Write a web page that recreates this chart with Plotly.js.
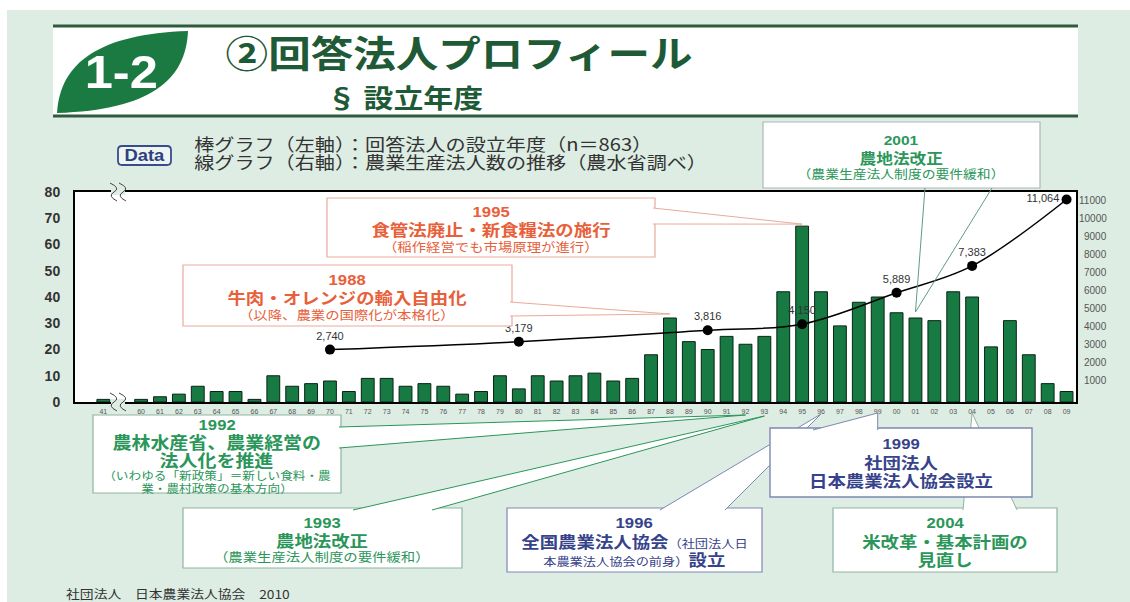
<!DOCTYPE html>
<html><head><meta charset="utf-8">
<script src="https://cdn.plot.ly/plotly-3.0.1.min.js"></script>
<style>html,body{margin:0;padding:0;background:#ddede3;}#chart{width:1130px;height:602px;}</style>
</head><body><div id="chart"></div>
<script>
// ---- data ----
const yearLabels = ['41','60','61','62','63','64','65','66','67','68','69','70','71','72','73','74','75','76','77','78','79','80','81','82','83','84','85','86','87','88','89','90','91','92','93','94','95','96','97','98','99','00','01','02','03','04','05','06','07','08','09'];
const established = [1, 1,2,3,6,4,4,1,10,6,7, 8,4,9,9,6,7,6,3,4,10, 5,10,8,10,11,8,9,18,32,23, 20,25,22,25,42,67,42,29,38,40, 34,32,31,42,40,21,31,18,7,4];
const farmYears = ['70','80','90','95','00','04','09'];
const farmCorps = [2740,3179,3816,4150,5889,7383,11064];
const leftTicks = [0,10,20,30,40,50,60,70,80];
const rightTicks = [1000,2000,3000,4000,5000,6000,7000,8000,9000,10000,11000];

// ---- geometry ----
const W=1130,H=602,PL=75,PR=1076,PT=192,PB=402;
const XR=[-3.5,49.5], YL=[0,80], YR=[-166,11481];
const xPos = yearLabels.map((l,i)=> i===0 ? -2 : i-1);
const farmX = farmYears.map(y=>xPos[yearLabels.indexOf(y)]);
const fx = p => (p-PL)/(PR-PL);
const fy = p => (PB-p)/(PB-PT);
const dpx = i => PL+(i-XR[0])/(XR[1]-XR[0])*(PR-PL);
const dpy = v => PB-(v-YL[0])/(YL[1]-YL[0])*(PB-PT);
const posOf = lab => xPos[yearLabels.indexOf(lab)];
const valOf = lab => established[yearLabels.indexOf(lab)];

const JP = '"Noto Sans CJK JP", sans-serif';
const AR = '"Liberation Sans", Arial, sans-serif';
const BG = '#ddede3';
const RED='#e8603a', REDB='#e9ab9b', GRN='#2a9659', GRNB='#8fb3a2', NAV='#36438a', NAVB='#7d88b3';
const SX = 1.15; // horizontal stretch of the reference lettering

const shapes=[], ann=[], stretch={};
function rect(x0,y0,x1,y1,fill,line,lw){shapes.push({type:'rect',xref:'paper',yref:'paper',x0:fx(x0),x1:fx(x1),y0:fy(y1),y1:fy(y0),fillcolor:fill,line:{color:line||'rgba(0,0,0,0)',width:lw===undefined?1:lw},layer:'above'});}
function path(pts,fill,line,lw,close){let d=pts.map((p,k)=>(k?'L':'M')+fx(p[0])+','+fy(p[1])).join(' ')+(close?' Z':'');shapes.push({type:'path',xref:'paper',yref:'paper',path:d,fillcolor:fill||'rgba(0,0,0,0)',line:{color:line||'rgba(0,0,0,0)',width:lw===undefined?1:lw},layer:'above'});}
function rawPath(d,fill,line,lw){shapes.push({type:'path',xref:'paper',yref:'paper',path:d,fillcolor:fill||'rgba(0,0,0,0)',line:{color:line||'rgba(0,0,0,0)',width:lw===undefined?1:lw},layer:'above'});}
function T(x,y,text,size,color,weight,family,anchor,sx){
  ann.push({xref:'paper',yref:'paper',x:fx(x),y:fy(y),text:text,showarrow:false,xanchor:anchor||'center',yanchor:'middle',borderpad:0,font:{family:family||JP,size:size,color:color,weight:weight||400}});
  stretch[ann.length-1]={s:sx===undefined?SX:sx,a:anchor||'center'};
}
function P(x,y){return fx(x)+','+fy(y);}

// page decoration
rect(0,0,W,10,'#ffffff');
rect(0,0,7,H,'#ffffff');
// header
rect(53,25,1078,117,'#ffffff');
path([[53,26],[1078,26]],null,'#2e5b3d',3);
path([[53,116],[1078,116]],null,'#2e5b3d',3);
rawPath('M'+P(57,113)+' C'+P(60,62)+' '+P(100,34)+' '+P(188,31)+' C'+P(186,80)+' '+P(150,110)+' '+P(57,113)+' Z','#1b7a42',null,0);
T(121,72,'1-2',46,'#ffffff',700,AR,'center',1.1);
T(459,52,'②回答法人プロフィール',37,'#1f5a36',700);
T(405,96,'§ 設立年度',26,'#1f5a36',700);
// data legend
rawPath('M'+P(122,146)+' L'+P(167,146)+' Q'+P(171,146)+' '+P(171,150)+' L'+P(171,161)+' Q'+P(171,165)+' '+P(167,165)+' L'+P(122,165)+' Q'+P(118,165)+' '+P(118,161)+' L'+P(118,150)+' Q'+P(118,146)+' '+P(122,146)+' Z','rgba(255,255,255,0.45)','#3a4c8c',1.8);
T(144.5,155.5,'Data',16,'#2f3f80',700,AR);
T(193,143,'棒グラフ（左軸）：回答法人の設立年度（n＝863）',17.5,'#333333',400,JP,'left');
T(193,161,'線グラフ（右軸）：農業生産法人数の推移（農水省調べ）',17.5,'#333333',400,JP,'left');

// ---- callouts (bottom) ----
const labTipY = 415;
// 1992
rect(93,415,341,493,'#ffffff',GRNB,1.2);
path([[339,427],[dpx(posOf('92')),labTipY],[339,448]],'#ffffff',GRN,1);
// 1993
rect(183,508,462,568,'#ffffff',GRNB,1.2);
path([[353,510],[dpx(posOf('93')),labTipY+1],[432,510]],'#ffffff',GRN,1);
// 1996
rect(507,508,762,572,'#ffffff',NAVB,1.2);
path([[660,510],[dpx(posOf('96')),labTipY-1],[725,510]],'#ffffff',NAVB,1);
// 2004
rect(833,508,1057,572,'#ffffff',GRNB,1.2);
path([[963,510],[dpx(posOf('04')),labTipY-2],[1017,510]],'#ffffff',GRNB,1);
// 1999
rect(770,428,1032,497,'#ffffff',NAVB,1.4);
path([[813,430],[dpx(posOf('99')),labTipY-2],[dpx(posOf('99')),430]],'#ffffff',NAVB,1);
// 2001 (top)
rect(763,122,1040,188,'#ffffff','#a9b9b4',1.2);
path([[925,188],[dpx(posOf('01')),dpy(valOf('01'))-6],[992,188]],null,'#5f9a8a',1);
// 1995
rect(327,198,655,257,'#ffffff',REDB,1.2);
path([[653,208],[dpx(posOf('95')),dpy(valOf('95'))-2],[653,224]],'#ffffff',REDB,1);
// 1988
rect(183,265,512,326,'#ffffff',REDB,1.2);
path([[510,302],[dpx(posOf('88')),dpy(valOf('88'))-4],[510,316]],'#ffffff',REDB,1);

// axis break marks
function brk(cx,cy){
  rect(cx-7,cy-3,cx+7,cy+3,BG,null,0);
  [cx-6,cx+3].forEach(x=>{
    rawPath('M'+P(x-2,cy-9)+' Q'+P(x+9,cy-4)+' '+P(x+2,cy)+' Q'+P(x-5,cy+4)+' '+P(x+5,cy+9),null,'#444444',1);
  });
}
brk(118,192);
brk(118,402);

// callout texts
T(901,140,'2001',13.5,GRN,700,AR);
T(901,157,'農地法改正',14.5,GRN,700);
T(901,173,'（農業生産法人制度の要件緩和）',12,GRN,400);

T(491,212,'1995',14.5,RED,700,AR);
T(491,229,'食管法廃止・新食糧法の施行',16,RED,700);
T(491,246,'（稲作経営でも市場原理が進行）',12.5,RED,400);

T(347,280,'1988',14.5,RED,700,AR);
T(347,297,'牛肉・オレンジの輸入自由化',16,RED,700);
T(347,314,'（以降、農業の国際化が本格化）',12.5,RED,400);

T(217,425,'1992',14.5,GRN,700,AR);
T(217,442,'農林水産省、農業経営の',16.5,GRN,700);
T(217,460,'法人化を推進',16.5,GRN,700);
T(217,475,'（いわゆる「新政策」＝新しい食料・農',11,GRN,400);
T(217,488,'業・農村政策の基本方向）',11,GRN,400);

T(322,523,'1993',14.5,GRN,700,AR);
T(322,540,'農地法改正',16,GRN,700);
T(322,556,'（農業生産法人制度の要件緩和）',12.5,GRN,400);

T(634,523,'1996',14.5,NAV,700,AR);
T(634,541,'<span style="font-weight:bold;font-size:16px">全国農業法人協会</span>（社団法人日',11.5,NAV,400);
T(634,559,'本農業法人協会の前身）<span style="font-weight:bold;font-size:16px">設立</span>',11.5,NAV,400);

T(901,444,'1999',14.5,NAV,700,AR);
T(901,462,'社団法人',16,NAV,700);
T(901,480,'日本農業法人協会設立',16,NAV,700);

T(945,523,'2004',14.5,GRN,700,AR);
T(945,541,'米改革・基本計画の',16,GRN,700);
T(945,559,'見直し',16,GRN,700);

T(65,593,'社団法人　日本農業法人協会　2010',12,'#333333',400,JP,'left');

// right axis labels (right aligned)
rightTicks.forEach(v=>ann.push({xref:'paper',yref:'y2',x:fx(1109),y:v,text:String(v),showarrow:false,xanchor:'right',yanchor:'middle',font:{family:AR,size:10,color:'#555555'}}));

const bars = {type:'bar',x:xPos,y:established,width:0.68,marker:{color:'#167a42',line:{color:'#0b2414',width:1}},hoverinfo:'skip'};
const line = {type:'scatter',x:farmX,y:farmCorps,yaxis:'y2',mode:'lines+markers+text',
  line:{color:'#000000',width:1.5,shape:'spline',smoothing:1},marker:{color:'#000000',size:10},
  text:farmCorps.map(v=>v.toLocaleString('en-US')),
  textposition:farmCorps.map((v,i)=>i===farmCorps.length-1?'middle left':'top center'),
  textfont:{family:AR,size:11,color:'#333333'},cliponaxis:false,hoverinfo:'skip'};

const layout = {
  width:W,height:H,margin:{l:PL,r:W-PR,t:PT,b:H-PB,pad:0},
  paper_bgcolor:BG,plot_bgcolor:'#ffffff',showlegend:false,bargap:0,
  xaxis:{range:XR,tickvals:xPos,ticktext:yearLabels,tickangle:0,tickfont:{family:AR,size:7,color:'#555555'},
    showline:true,mirror:true,linecolor:'#000000',linewidth:2,ticks:'',showgrid:false,zeroline:false,fixedrange:true,ticklabelstandoff:2},
  yaxis:{range:YL,tickvals:leftTicks,tickfont:{family:AR,size:14,color:'#333333',weight:700},
    showline:true,mirror:true,linecolor:'#000000',linewidth:2,ticks:'',showgrid:false,zeroline:false,fixedrange:true,ticklabelstandoff:10},
  yaxis2:{range:YR,overlaying:'y',side:'right',showticklabels:false,showline:false,showgrid:false,zeroline:false,ticks:'',fixedrange:true},
  shapes:shapes,annotations:ann
};
Plotly.newPlot('chart',[bars,line],layout,{displayModeBar:false,staticPlot:true}).then(gd=>{
  gd.querySelectorAll('g.annotation').forEach(g=>{
    const info = stretch[+g.getAttribute('data-index')];
    if(!info || info.s===1) return;
    const t = g.querySelector('text.annotation-text');
    if(!t) return;
    const b = t.getBBox();
    const cx = info.a==='left' ? b.x : b.x + b.width/2;
    const old = t.getAttribute('transform') || '';
    t.setAttribute('transform', (old+' translate('+cx+' 0) scale('+info.s+' 1) translate('+(-cx)+' 0)').trim());
  });
});
</script></body></html>
